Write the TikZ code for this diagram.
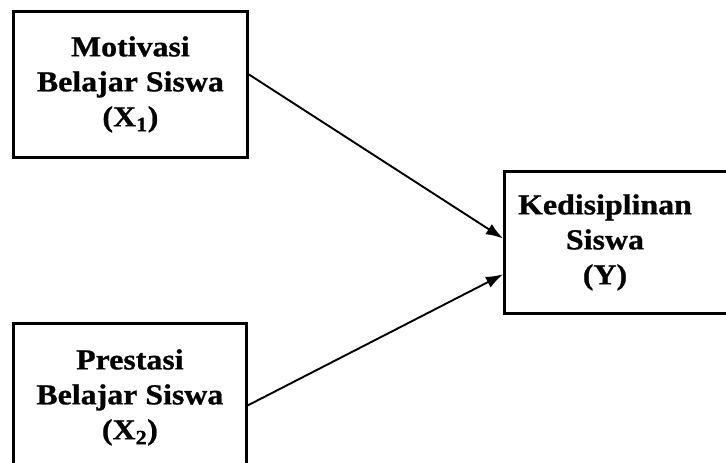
\documentclass[tikz,border=0pt]{standalone}
\usepackage{fontspec}
\setmainfont[FakeStretch=1.1, FakeBold=0.8]{Liberation Serif}
\usetikzlibrary{arrows.meta}
\begin{document}
\begin{tikzpicture}[x=1pt, y=-1pt,
        kotak/.style = {draw, line width=2.8pt, rectangle, inner sep=0pt},
        judul/.style = {align=center, font=\fontsize{29}{35}\selectfont\bfseries},
        panah/.style = {line width=1.9pt, -{Latex[length=17pt,width=12pt]}}]
    \useasboundingbox (0,0) rectangle (726,463);
    % kotak variabel
    \node[kotak, minimum width=234pt, minimum height=146pt, anchor=north west] (motivasi) at (12,10) {};
    \node[judul] (motivasiteks) at (motivasi.center) {Motivasi\\Belajar Siswa\\(X\textsubscript{1})};
    \node[kotak, minimum width=233pt, minimum height=148pt, anchor=north west] (prestasi) at (12,322) {};
    \node[judul] (prestasiteks) at (prestasi.center) {Prestasi\\Belajar Siswa\\(X\textsubscript{2})};
    \node[kotak, minimum width=242pt, minimum height=142pt, anchor=north west] (disiplin) at (503,170) {};
    \node[judul] (disiplinteks) at ([xshift=102pt]disiplin.west) {Kedisiplinan\\Siswa\\(Y)};
    % panah
    \draw[panah] ([yshift=10pt]motivasi.east) -- ([yshift=4pt]disiplin.west);
    \draw[panah] ([yshift=-8pt]prestasi.east) -- ([yshift=-32pt]disiplin.west);
\end{tikzpicture}
\end{document}
